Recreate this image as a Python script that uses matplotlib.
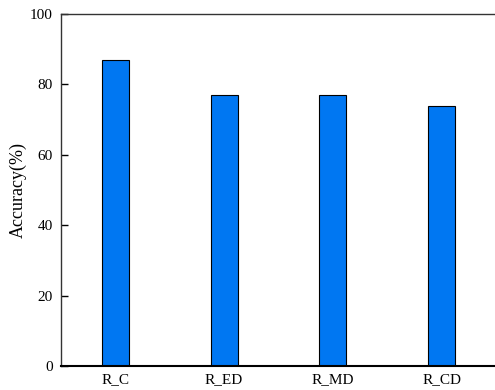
import matplotlib
matplotlib.use("Agg")
import matplotlib.pyplot as plt

categories = ["R_C", "R_ED", "R_MD", "R_CD"]
accuracy = [87, 77, 76.9, 74]
yticks = [0, 20, 40, 60, 80, 100]

plt.rcParams['font.family'] = ['Liberation Serif', 'DejaVu Serif']

fig = plt.figure(figsize=(4.95, 3.9), dpi=100)
ax = fig.add_axes([61/495, 1 - 366/390, (496 - 61)/495, (366 - 14)/390])
x = list(range(len(categories)))
ax.bar(x, accuracy, width=0.25, color="#0077F2", edgecolor="black", linewidth=0.8, zorder=2)
ax.set_xlim(-0.5, len(categories) - 0.5)
ax.set_ylim(0, 100)
ax.set_yticks(yticks)
ax.set_xticks(x)
ax.set_xticklabels(categories, fontsize=11)
ax.tick_params(axis='y', direction='in', length=5, width=1, labelsize=11, pad=6)
ax.tick_params(axis='x', length=0, labelsize=11, pad=5)
ax.set_ylabel("Accuracy(%)", fontsize=13, labelpad=2)
ax.spines['right'].set_visible(False)
for s in ['left', 'top']:
    ax.spines[s].set_linewidth(1.0)
    ax.spines[s].set_color('#333333')
ax.spines['bottom'].set_linewidth(1.5)
ax.spines['bottom'].set_color('black')
fig.savefig("out.png", dpi=100)
